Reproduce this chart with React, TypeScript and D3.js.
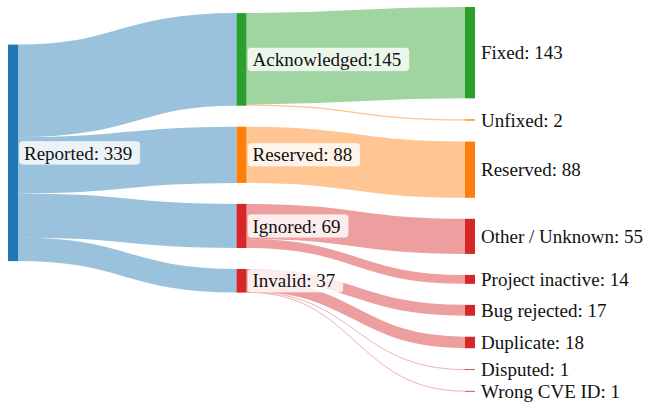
import * as d3 from "d3";
import { useEffect, useRef } from "react";

// node ids (both "Reserved" stages need their own id) and the text shown
const nodeIds = [
  "Reported",
  "Acknowledged",
  "Reserved",
  "Ignored",
  "Invalid",
  "Fixed",
  "Unfixed",
  "Reserved (final)",
  "Other / Unknown",
  "Project inactive",
  "Bug rejected",
  "Duplicate",
  "Disputed",
  "Wrong CVE ID",
];
const nodeNames = [
  "Reported",
  "Acknowledged",
  "Reserved",
  "Ignored",
  "Invalid",
  "Fixed",
  "Unfixed",
  "Reserved",
  "Other / Unknown",
  "Project inactive",
  "Bug rejected",
  "Duplicate",
  "Disputed",
  "Wrong CVE ID",
];
// labels written without a space after the colon
const tightLabels = ["Acknowledged"];

const linkSources = [
  "Reported",
  "Reported",
  "Reported",
  "Reported",
  "Acknowledged",
  "Acknowledged",
  "Reserved",
  "Ignored",
  "Ignored",
  "Invalid",
  "Invalid",
  "Invalid",
  "Invalid",
];
const linkTargets = [
  "Acknowledged",
  "Reserved",
  "Ignored",
  "Invalid",
  "Fixed",
  "Unfixed",
  "Reserved (final)",
  "Other / Unknown",
  "Project inactive",
  "Bug rejected",
  "Duplicate",
  "Disputed",
  "Wrong CVE ID",
];
const linkValues = [145, 88, 69, 37, 143, 2, 88, 55, 14, 17, 18, 1, 1];

const BLUE = "#1f77b4";
const GREEN = "#2ca02c";
const ORANGE = "#ff7f0e";
const RED = "#d62728";
const colorOf: Record<string, string> = {
  Reported: BLUE,
  Acknowledged: GREEN,
  Fixed: GREEN,
  Reserved: ORANGE,
  Unfixed: ORANGE,
  "Reserved (final)": ORANGE,
};

type SNode = {
  id: string;
  name: string;
  index: number;
  depth: number;
  layer: number;
  value: number;
  x0: number;
  x1: number;
  y0: number;
  y1: number;
  sourceLinks: SLink[];
  targetLinks: SLink[];
};
type SLink = {
  index: number;
  source: SNode;
  target: SNode;
  value: number;
  width: number;
  y0: number;
  y1: number;
};

// small port of the d3-sankey layout (input order kept inside columns)
function sankey(
  extent: [[number, number], [number, number]],
  dx: number,
  dy: number,
  iterations: number
) {
  const [[x0, y0], [x1, y1]] = extent;
  const nodes: SNode[] = nodeIds.map((id, i) => ({
    id,
    name: nodeNames[i],
    index: i,
    depth: 0,
    layer: 0,
    value: 0,
    x0: 0,
    x1: 0,
    y0: 0,
    y1: 0,
    sourceLinks: [],
    targetLinks: [],
  }));
  const byId = new Map(nodes.map((n) => [n.id, n]));
  const links: SLink[] = linkValues.map((v, i) => {
    const l: SLink = {
      index: i,
      source: byId.get(linkSources[i])!,
      target: byId.get(linkTargets[i])!,
      value: v,
      width: 0,
      y0: 0,
      y1: 0,
    };
    l.source.sourceLinks.push(l);
    l.target.targetLinks.push(l);
    return l;
  });

  for (const n of nodes) {
    n.value = Math.max(
      d3.sum(n.sourceLinks, (l) => l.value),
      d3.sum(n.targetLinks, (l) => l.value)
    );
  }

  // depths
  let current = new Set(nodes);
  let next = new Set<SNode>();
  let depth = 0;
  while (current.size) {
    for (const n of current) {
      n.depth = depth;
      for (const l of n.sourceLinks) next.add(l.target);
    }
    depth++;
    current = next;
    next = new Set();
  }
  const nLayers = depth;
  const kx = (x1 - x0 - dx) / (nLayers - 1);
  const columns: SNode[][] = Array.from({ length: nLayers }, () => []);
  for (const n of nodes) {
    n.layer = n.sourceLinks.length ? n.depth : nLayers - 1;
    n.x0 = x0 + n.layer * kx;
    n.x1 = n.x0 + dx;
    columns[n.layer].push(n);
  }

  const py = Math.min(dy, (y1 - y0) / (d3.max(columns, (c) => c.length)! - 1));
  const ky = d3.min(columns, (c) => (y1 - y0 - (c.length - 1) * py) / d3.sum(c, (n) => n.value))!;

  const byBreadth = (a: SNode, b: SNode) => a.y0 - b.y0;
  const bySrc = (a: SLink, b: SLink) => byBreadth(a.source, b.source) || a.index - b.index;
  const byTgt = (a: SLink, b: SLink) => byBreadth(a.target, b.target) || a.index - b.index;

  for (const col of columns) {
    let y = y0;
    for (const n of col) {
      n.y0 = y;
      n.y1 = y + n.value * ky;
      y = n.y1 + py;
      for (const l of n.sourceLinks) l.width = l.value * ky;
    }
    const slack = (y1 - y + py) / (col.length + 1);
    col.forEach((n, i) => {
      n.y0 += slack * (i + 1);
      n.y1 += slack * (i + 1);
    });
    for (const n of col) {
      n.sourceLinks.sort(byTgt);
      n.targetLinks.sort(bySrc);
    }
  }

  const reorderNodeLinks = (n: SNode) => {
    for (const l of n.targetLinks) l.source.sourceLinks.sort(byTgt);
    for (const l of n.sourceLinks) l.target.targetLinks.sort(bySrc);
  };
  const targetTop = (s: SNode, t: SNode) => {
    let y = s.y0 - ((s.sourceLinks.length - 1) * py) / 2;
    for (const l of s.sourceLinks) {
      if (l.target === t) break;
      y += l.width + py;
    }
    for (const l of t.targetLinks) {
      if (l.source === s) break;
      y -= l.width;
    }
    return y;
  };
  const sourceTop = (s: SNode, t: SNode) => {
    let y = t.y0 - ((t.targetLinks.length - 1) * py) / 2;
    for (const l of t.targetLinks) {
      if (l.source === s) break;
      y += l.width + py;
    }
    for (const l of s.sourceLinks) {
      if (l.target === t) break;
      y -= l.width;
    }
    return y;
  };
  const pushDown = (col: SNode[], y: number, i: number, a: number) => {
    for (; i < col.length; ++i) {
      const n = col[i];
      const d = (y - n.y0) * a;
      if (d > 1e-6) (n.y0 += d), (n.y1 += d);
      y = n.y1 + py;
    }
  };
  const pushUp = (col: SNode[], y: number, i: number, a: number) => {
    for (; i >= 0; --i) {
      const n = col[i];
      const d = (n.y1 - y) * a;
      if (d > 1e-6) (n.y0 -= d), (n.y1 -= d);
      y = n.y0 - py;
    }
  };
  const resolve = (col: SNode[], a: number) => {
    const i = col.length >> 1;
    const s = col[i];
    pushUp(col, s.y0 - py, i - 1, a);
    pushDown(col, s.y1 + py, i + 1, a);
    pushUp(col, y1, col.length - 1, a);
    pushDown(col, y0, 0, a);
  };

  for (let it = 0; it < iterations; ++it) {
    const alpha = Math.pow(0.99, it);
    const beta = Math.max(1 - alpha, (it + 1) / iterations);
    // right to left
    for (let i = columns.length - 2; i >= 0; --i) {
      for (const s of columns[i]) {
        let y = 0;
        let w = 0;
        for (const l of s.sourceLinks) {
          const v = l.value * (l.target.layer - s.layer);
          y += sourceTop(s, l.target) * v;
          w += v;
        }
        if (!(w > 0)) continue;
        const d = (y / w - s.y0) * alpha;
        s.y0 += d;
        s.y1 += d;
        reorderNodeLinks(s);
      }
      resolve(columns[i], beta);
    }
    // left to right
    for (let i = 1; i < columns.length; ++i) {
      for (const t of columns[i]) {
        let y = 0;
        let w = 0;
        for (const l of t.targetLinks) {
          const v = l.value * (t.layer - l.source.layer);
          y += targetTop(l.source, t) * v;
          w += v;
        }
        if (!(w > 0)) continue;
        const d = (y / w - t.y0) * alpha;
        t.y0 += d;
        t.y1 += d;
        reorderNodeLinks(t);
      }
      resolve(columns[i], beta);
    }
  }

  for (const n of nodes) {
    let a = n.y0;
    let b = n.y0;
    for (const l of n.sourceLinks) {
      l.y0 = a + l.width / 2;
      a += l.width;
    }
    for (const l of n.targetLinks) {
      l.y1 = b + l.width / 2;
      b += l.width;
    }
  }
  return { nodes, links };
}

export default function App() {
  const svgRef = useRef<SVGSVGElement | null>(null);

  useEffect(() => {
    if (!svgRef.current) return;
    document.body.style.margin = "0";

    const width = 647;
    const height = 402;
    const { nodes, links } = sankey([[8, 7], [475, 391.5]], 10, 21, 1);

    const svg = d3.select(svgRef.current);
    svg.selectAll("*").remove();

    const nodeColor = (n: SNode) => colorOf[n.id] ?? RED;
    // first step coloured by its source, later steps by the outcome
    const linkColor = (l: SLink) =>
      l.source.layer === 0 ? nodeColor(l.source) : nodeColor(l.target);

    svg
      .append("g")
      .attr("fill", "none")
      .selectAll("path")
      .data(links)
      .join("path")
      .attr(
        "d",
        d3
          .linkHorizontal<SLink, [number, number]>()
          .source((d) => [d.source.x1, d.y0])
          .target((d) => [d.target.x0, d.y1])
      )
      .attr("stroke", linkColor)
      .attr("stroke-opacity", 0.45)
      .attr("stroke-width", (d) => Math.max(0.8, d.width));

    svg
      .append("g")
      .selectAll("rect")
      .data(nodes)
      .join("rect")
      .attr("x", (d) => d.x0)
      .attr("y", (d) => d.y0)
      .attr("width", (d) => d.x1 - d.x0)
      .attr("height", (d) => Math.max(0.8, d.y1 - d.y0))
      .attr("fill", nodeColor);

    const labels = svg.append("g");
    const boxes = labels.append("g");
    const texts = labels
      .append("g")
      .attr("font-family", '"Liberation Serif", "Times New Roman", serif')
      .attr("font-size", 19)
      .attr("fill", "#111")
      .selectAll("text")
      .data(nodes)
      .join("text")
      .attr("x", (d) => d.x1 + 6)
      .attr("y", (d) => (d.y0 + d.y1) / 2)
      .attr("dy", "0.35em")
      .text((d) => `${d.name}:${tightLabels.includes(d.id) ? "" : " "}${d.value}`);

    texts
      .filter((d) => d.sourceLinks.length > 0)
      .each(function (d) {
        const bb = (this as SVGTextElement).getBBox();
        boxes
          .append("rect")
          .attr("x", bb.x - 4.5)
          .attr("y", (d.y0 + d.y1) / 2 - 11.3)
          .attr("width", bb.width + 12)
          .attr("height", 22.6)
          .attr("rx", 3)
          .attr("fill", "#fff")
          .attr("fill-opacity", 0.8)
          .attr("stroke", "#fff")
          .attr("stroke-opacity", 0.6)
          .attr("stroke-width", 0.8);
      });

    svg.attr("width", width).attr("height", height);
  }, []);

  return <svg ref={svgRef} width={647} height={402} style={{ display: "block" }} />;
}
